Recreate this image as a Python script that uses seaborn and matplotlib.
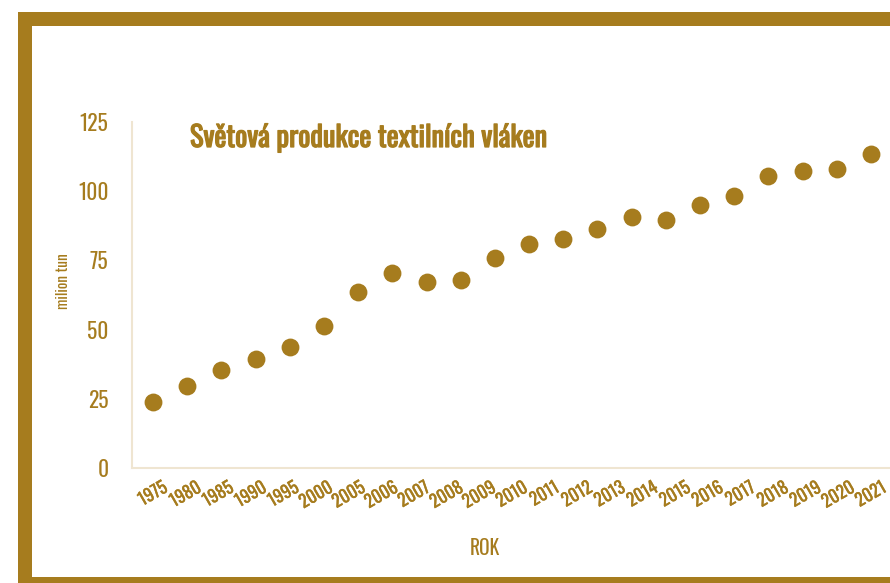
import numpy as np
import pandas as pd
import matplotlib
matplotlib.use("Agg")
import matplotlib.pyplot as plt
from matplotlib import font_manager as fm
from matplotlib.patches import Rectangle
import matplotlib.patheffects as pe
import seaborn as sns

# ---- data ----
year_labels = ["1975", "1980", "1985", "1990", "1995", "2000", "2005", "2006", "2007",
               "2008", "2009", "2010", "2011", "2012", "2013", "2014", "2015", "2016",
               "2017", "2018", "2019", "2020", "2021"]
production = [23.8, 29.5, 35.4, 39.3, 43.6, 51.3, 63.5, 70.5, 67.1, 67.9, 75.9,
              80.9, 82.9, 86.4, 90.6, 89.8, 95.0, 98.3, 105.5, 107.3, 108.1, 113.4]
y_ticks = [0, 25, 50, 75, 100, 125]
title = "Světová produkce textilních vláken"
y_label = "milion tun"
x_label = "ROK"

GOLD = "#A67C1E"
LIGHT = "#EFE5D1"

sns.set_style("white")
avail = {f.name for f in fm.fontManager.ttflist}
cond = next((f for f in ["Oswald", "Liberation Sans Narrow", "Roboto Condensed",
                         "Open Sans Condensed", "Liberation Sans"] if f in avail), "DejaVu Sans")
plt.rcParams["font.family"] = [cond, "DejaVu Sans"]

W, H = 890, 583
fig = plt.figure(figsize=(W / 100, H / 100), dpi=100)
fig.patch.set_facecolor("white")

# frame bands
fig.patches.append(Rectangle((18 / W, 0), 14 / W, 571 / H, transform=fig.transFigure,
                             facecolor=GOLD, edgecolor="none", zorder=0))
fig.patches.append(Rectangle((18 / W, 557 / H), 1 - 18 / W, 14 / H, transform=fig.transFigure,
                             facecolor=GOLD, edgecolor="none", zorder=0))
fig.patches.append(Rectangle((18 / W, 0), 1 - 18 / W, 6 / H, transform=fig.transFigure,
                             facecolor=GOLD, edgecolor="none", zorder=0))

ax = fig.add_axes([132 / W, (H - 467.7) / H, 1 - 132 / W, (467.7 - 122.3) / H])
ax.set_facecolor("none")

df = pd.DataFrame({"idx": np.arange(len(production)), "value": production})
sns.scatterplot(data=df, x="idx", y="value", ax=ax, color=GOLD, s=165,
                linewidth=0, zorder=3, clip_on=False)

n = len(production)
ax.set_xlim(-0.614, 21.556)
ax.set_ylim(0, 125)
ax.set_yticks(y_ticks)
ax.set_yticklabels([str(v) for v in y_ticks], fontsize=15.5, color=GOLD)
ax.set_xticks(np.linspace(0, n - 1, len(year_labels)))
ax.set_xticklabels(year_labels, rotation=30, ha="center", fontsize=12.5, color=GOLD)

light_stroke = [pe.withStroke(linewidth=0.25, foreground=GOLD)]
for t in ax.get_xticklabels():
    t.set_path_effects(light_stroke)

ax.tick_params(axis="y", length=8, width=1.2, color=LIGHT, pad=9)
ax.tick_params(axis="x", length=0, pad=8)

for side in ["top", "right"]:
    ax.spines[side].set_visible(False)
for side in ["left", "bottom"]:
    ax.spines[side].set_color(LIGHT)
    ax.spines[side].set_linewidth(1.5)

ax.set_xlabel("")
ax.set_ylabel("")
fig.text(63 / W, 1 - 281 / H, y_label, rotation=90, ha="center", va="center",
         fontsize=11, color=GOLD)
fig.text(485 / W, 1 - 548 / H, x_label, ha="center", va="center", fontsize=14,
         color=GOLD)
fig.text(190 / W, 1 - 138 / H, title, ha="left", va="center", fontsize=20.5,
         fontweight="bold", color=GOLD,
         path_effects=[pe.withStroke(linewidth=0.9, foreground=GOLD)])

fig.savefig("out.png", dpi=100, facecolor="white")
